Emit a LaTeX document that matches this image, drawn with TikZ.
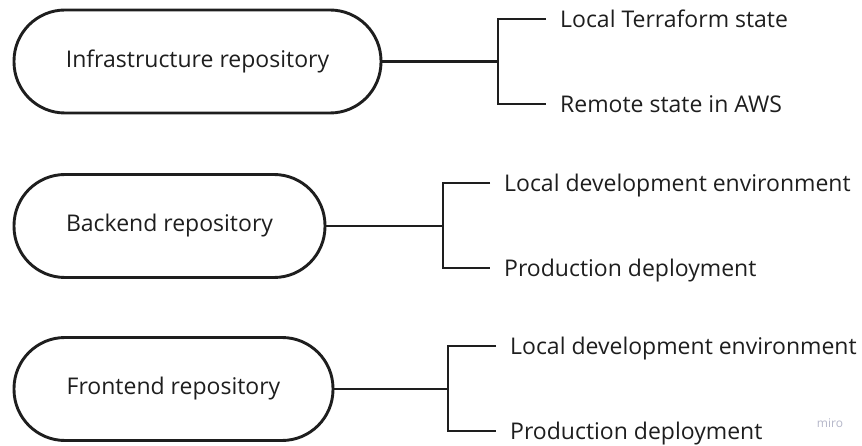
\documentclass[tikz,border=0pt]{standalone}
\usepackage{fontspec}
\setmainfont{Open Sans}
\definecolor{ink}{HTML}{1E1E1E}
\definecolor{mark}{HTML}{B4B6C8}
\begin{document}
\begin{tikzpicture}[x=1pt,y=-1pt,
  repo/.style={draw=ink, line width=2.9pt, fill=white, rounded corners=51pt,
    minimum height=103pt, inner sep=0pt, font=\fontsize{23}{26}\selectfont, text=ink},
  leaf/.style={anchor=west, inner xsep=14pt, inner ysep=0pt, text height=16.4pt,
    text depth=0pt, font=\fontsize{23}{26}\selectfont, text=ink},
  link/.style={draw=ink, line width=2.9pt}]
\useasboundingbox (0,0) rectangle (862,446);

% repositories
\node[repo, minimum width=367pt] (infra) at (197.5,61.5) {Infrastructure repository};
\node[repo, minimum width=311pt] (back)  at (169.5,226) {Backend repository};
\node[repo, minimum width=319pt] (front) at (173.5,389) {Frontend repository};

% branch points
\coordinate (j1) at (498,61.5);
\coordinate (j2) at (443,226);
\coordinate (j3) at (448,389);

% leaves
\node[leaf] (i1) at (546,19)  {Local Terraform state};
\node[leaf] (i2) at (546,104) {Remote state in AWS};
\node[leaf] (b1) at (490,183) {Local development environment};
\node[leaf] (b2) at (490,268) {Production deployment};
\node[leaf] (f1) at (496,346) {Local development environment};
\node[leaf] (f2) at (496,431) {Production deployment};

% connectors
\draw[link] (infra.east) -- (j1);
\draw[link] (i1.west) -| (j1) |- (i2.west);
\draw[link] (back.east) -- (j2);
\draw[link] (b1.west) -| (j2) |- (b2.west);
\draw[link] (front.east) -- (j3);
\draw[link] (f1.west) -| (j3) |- (f2.west);

\node[text=mark, font=\fontsize{12}{14}\selectfont] (wm) at (830,423) {miro};
\end{tikzpicture}
\end{document}
